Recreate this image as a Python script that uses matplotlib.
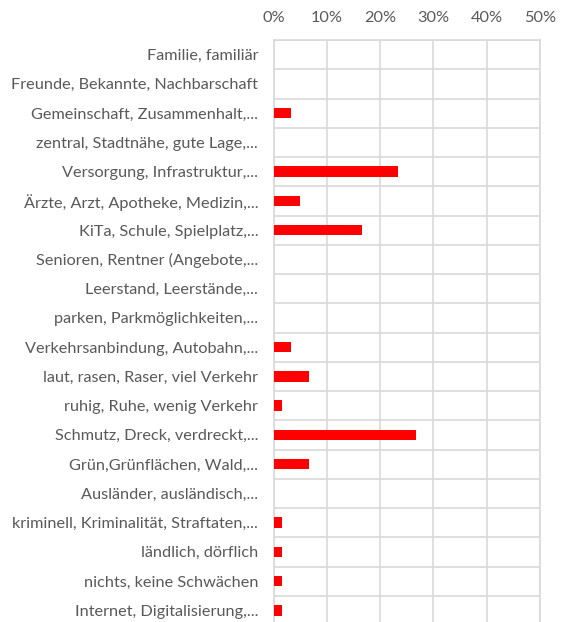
import matplotlib
matplotlib.use("Agg")
import matplotlib.pyplot as plt
from matplotlib.ticker import FuncFormatter

categories = [
    "Familie, familiär",
    "Freunde, Bekannte, Nachbarschaft",
    "Gemeinschaft, Zusammenhalt,...",
    "zentral, Stadtnähe, gute Lage,...",
    "Versorgung, Infrastruktur,...",
    "Ärzte, Arzt, Apotheke, Medizin,...",
    "KiTa, Schule, Spielplatz,...",
    "Senioren, Rentner (Angebote,...",
    "Leerstand, Leerstände,...",
    "parken, Parkmöglichkeiten,...",
    "Verkehrsanbindung, Autobahn,...",
    "laut, rasen, Raser, viel Verkehr",
    "ruhig, Ruhe, wenig Verkehr",
    "Schmutz, Dreck, verdreckt,...",
    "Grün,Grünflächen, Wald,...",
    "Ausländer, ausländisch,...",
    "kriminell, Kriminalität, Straftaten,...",
    "ländlich, dörflich",
    "nichts, keine Schwächen",
    "Internet, Digitalisierung,...",
]
shares = [0.0, 0.0, 3.33, 0.0, 23.33, 5.0, 16.67, 0.0, 0.0, 0.0,
          3.33, 6.67, 1.67, 26.67, 6.67, 0.0, 1.67, 1.67, 1.67, 1.67]
xticks = [0, 10, 20, 30, 40, 50]

plt.rcParams["font.family"] = ["Lato", "DejaVu Sans"]

fig = plt.figure(figsize=(5.61, 6.22), dpi=100)
ax = fig.add_axes([273.5 / 561, -3 / 622, (540 - 273.5) / 561, 585 / 622])

y = list(range(len(categories)))
ax.barh(y, shares, height=0.36, color="#FF0000", zorder=3)

ax.set_xlim(0, 50)
ax.set_ylim(len(categories) - 0.5, -0.5)
ax.set_xticks(xticks)
ax.xaxis.set_major_formatter(FuncFormatter(lambda v, p: f"{v:.0f}%"))
ax.xaxis.tick_top()
ax.set_yticks(y)
ax.set_yticklabels(categories)
ax.set_yticks([i + 0.5 for i in range(-1, len(categories))], minor=True)

ax.grid(axis="x", which="major", color="#D9D9D9", linewidth=1.2, zorder=0)
ax.grid(axis="y", which="minor", color="#D9D9D9", linewidth=1.2, zorder=0)
ax.tick_params(axis="both", which="both", length=0)
ax.tick_params(axis="y", pad=11, labelsize=11.7, labelcolor="#595959")
ax.tick_params(axis="x", pad=10.5, labelsize=11.7, labelcolor="#595959")
for s in ax.spines.values():
    s.set_color("#D9D9D9")
    s.set_linewidth(1.2)

fig.savefig("out.png", dpi=100)
